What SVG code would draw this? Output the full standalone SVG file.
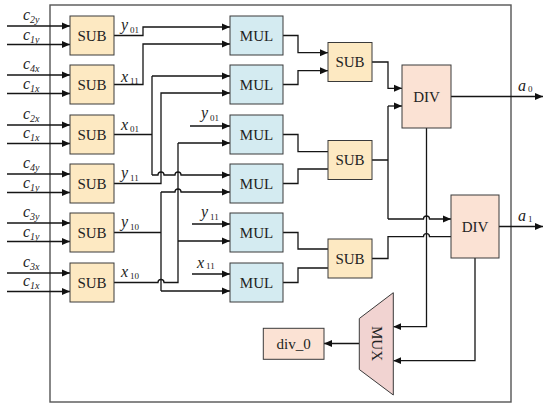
<svg xmlns="http://www.w3.org/2000/svg" width="550" height="408" viewBox="0 0 550 408">
<style>
.frame{fill:none;stroke:#555;stroke-width:1.4}
.sub{fill:#fde9c2;stroke:#3a3a3a;stroke-width:1}
.mul{fill:#d4ebf1;stroke:#3a3a3a;stroke-width:1}
.div{fill:#fbe2d4;stroke:#3a3a3a;stroke-width:1}
.mux{fill:#f1d3d1;stroke:#3a3a3a;stroke-width:1}
.w{fill:none;stroke:#151515;stroke-width:1.3}
.a{marker-end:url(#ah)}
.bt{font-family:"Liberation Serif","Times New Roman",serif;font-size:15px;fill:#222;text-anchor:middle;dominant-baseline:central}
.lab{font-family:"Liberation Serif","Times New Roman",serif;font-size:16px;font-style:italic;fill:#222}
.s{font-size:10px}
.sn{font-size:9px;font-style:normal}
</style>
<defs>
<marker id="ah" markerWidth="9" markerHeight="8" refX="8" refY="4" orient="auto" markerUnits="userSpaceOnUse">
<path d="M0,0.5 L8,4 L0,7.5 Z" fill="#111"/>
</marker>
</defs>
<rect class="frame" x="50" y="5" width="461" height="397"/>
<g id="connectors">
<path class="w a" d="M7,26 H70"/><path class="w a" d="M7,44.5 H70"/>
<path class="w a" d="M7,75 H70"/><path class="w a" d="M7,93.5 H70"/>
<path class="w a" d="M7,125 H70"/><path class="w a" d="M7,143.5 H70"/>
<path class="w a" d="M7,174 H70"/><path class="w a" d="M7,192.5 H70"/>
<path class="w a" d="M7,223 H70"/><path class="w a" d="M7,241.5 H70"/>
<path class="w a" d="M7,273 H70"/><path class="w a" d="M7,291.5 H70"/>
<path class="w a" d="M114,35.5 H143 V27 H230"/>
<path class="w a" d="M114,84.5 H143 V44 H230"/>
<path class="w" d="M114,134.5 H152 M152,76 V175"/>
<path class="w a" d="M152,76 H230"/>
<path class="w a" d="M152,175 H158 A3,3 0 0 1 164,175 H175 A3,3 0 0 1 181,175 H230"/>
<path class="w a" d="M114,183.5 H161 V93 H230"/>
<path class="w" d="M114,232.5 H161 M161,192 V291"/>
<path class="w a" d="M161,192 H175 A3,3 0 0 1 181,192 H230"/>
<path class="w a" d="M161,291 H230"/>
<path class="w" d="M114,282.5 H158 A3,3 0 0 1 164,282.5 H178 V143"/>
<path class="w a" d="M178,143 H230"/>
<path class="w a" d="M178,241 H230"/>
<path class="w a" d="M190,126 H230"/>
<path class="w a" d="M192,224 H230"/>
<path class="w a" d="M192,274 H230"/>
<path class="w a" d="M283,35.5 H298 V52.7 H328"/>
<path class="w a" d="M283,84.5 H298 V70.7 H328"/>
<path class="w" d="M283,134.5 H298 V151.7 H328"/>
<path class="w" d="M283,183.5 H298 V169 H328"/>
<path class="w" d="M283,232.5 H298 V249 H328"/>
<path class="w" d="M283,282.5 H298 V268 H328"/>
<path class="w a" d="M372,62 H388 V88.3 H402"/>
<path class="w" d="M372,160 H388 M388,106 V219"/>
<path class="w a" d="M388,106 H402"/>
<path class="w a" d="M388,219 H423.5 A3,3 0 0 1 429.5,219 H451"/>
<path class="w" d="M372,258.5 H388 V236.7 H423.5 A3,3 0 0 1 429.5,236.7 H451"/>
<path class="w a" d="M451,96.5 H543"/>
<path class="w a" d="M499,226.5 H543"/>
<path class="w a" d="M426.5,128 V326.7 H393.3"/>
<path class="w a" d="M475,258 V360.7 H393.3"/>
<path class="w a" d="M359.3,343.5 H324"/>
</g>
<g id="labels">
<text class="lab" x="23" y="20">c<tspan class="s" dy="3">2y</tspan></text>
<text class="lab" x="23" y="39.5">c<tspan class="s" dy="3">1y</tspan></text>
<text class="lab" x="23" y="69">c<tspan class="s" dy="3">4x</tspan></text>
<text class="lab" x="23" y="88.5">c<tspan class="s" dy="3">1x</tspan></text>
<text class="lab" x="23" y="119">c<tspan class="s" dy="3">2x</tspan></text>
<text class="lab" x="23" y="138">c<tspan class="s" dy="3">1x</tspan></text>
<text class="lab" x="23" y="168">c<tspan class="s" dy="3">4y</tspan></text>
<text class="lab" x="23" y="187.5">c<tspan class="s" dy="3">1y</tspan></text>
<text class="lab" x="23" y="217">c<tspan class="s" dy="3">3y</tspan></text>
<text class="lab" x="23" y="236.5">c<tspan class="s" dy="3">1y</tspan></text>
<text class="lab" x="23" y="267">c<tspan class="s" dy="3">3x</tspan></text>
<text class="lab" x="23" y="286">c<tspan class="s" dy="3">1x</tspan></text>
<text class="lab" x="121" y="29.5">y<tspan class="sn" dx="2" dy="3">01</tspan></text>
<text class="lab" x="121" y="81.5">x<tspan class="sn" dx="2" dy="2">11</tspan></text>
<text class="lab" x="121" y="130">x<tspan class="sn" dx="2" dy="2">01</tspan></text>
<text class="lab" x="121" y="177.5">y<tspan class="sn" dx="2" dy="3">11</tspan></text>
<text class="lab" x="121" y="227">y<tspan class="sn" dx="2" dy="3">10</tspan></text>
<text class="lab" x="121" y="277">x<tspan class="sn" dx="2" dy="2">10</tspan></text>
<text class="lab" x="201" y="118">y<tspan class="sn" dx="2" dy="3">01</tspan></text>
<text class="lab" x="201" y="217">y<tspan class="sn" dx="2" dy="3">11</tspan></text>
<text class="lab" x="197" y="268">x<tspan class="sn" dx="2" dy="1">11</tspan></text>
<text class="lab" x="518" y="91">a<tspan class="sn" dx="2" dy="1">0</tspan></text>
<text class="lab" x="518" y="221">a<tspan class="sn" dx="2" dy="1">1</tspan></text>
</g>
<g id="sub1"><rect class="sub" x="70" y="16" width="44" height="39"/><text class="bt" x="92" y="35.5">SUB</text></g>
<g id="sub2"><rect class="sub" x="70" y="65" width="44" height="39"/><text class="bt" x="92" y="84.5">SUB</text></g>
<g id="sub3"><rect class="sub" x="70" y="115" width="44" height="39"/><text class="bt" x="92" y="134.5">SUB</text></g>
<g id="sub4"><rect class="sub" x="70" y="164" width="44" height="39"/><text class="bt" x="92" y="183.5">SUB</text></g>
<g id="sub5"><rect class="sub" x="70" y="213" width="44" height="39"/><text class="bt" x="92" y="232.5">SUB</text></g>
<g id="sub6"><rect class="sub" x="70" y="263" width="44" height="39"/><text class="bt" x="92" y="282.5">SUB</text></g>
<g id="mul1"><rect class="mul" x="230" y="16" width="53" height="39"/><text class="bt" x="256.5" y="35.5">MUL</text></g>
<g id="mul2"><rect class="mul" x="230" y="65" width="53" height="39"/><text class="bt" x="256.5" y="84.5">MUL</text></g>
<g id="mul3"><rect class="mul" x="230" y="115" width="53" height="39"/><text class="bt" x="256.5" y="134.5">MUL</text></g>
<g id="mul4"><rect class="mul" x="230" y="164" width="53" height="39"/><text class="bt" x="256.5" y="183.5">MUL</text></g>
<g id="mul5"><rect class="mul" x="230" y="213" width="53" height="39"/><text class="bt" x="256.5" y="232.5">MUL</text></g>
<g id="mul6"><rect class="mul" x="230" y="263" width="53" height="39"/><text class="bt" x="256.5" y="282.5">MUL</text></g>
<g id="sub7"><rect class="sub" x="328" y="42.5" width="44" height="39"/><text class="bt" x="350" y="62">SUB</text></g>
<g id="sub8"><rect class="sub" x="328" y="140.5" width="44" height="39"/><text class="bt" x="350" y="160">SUB</text></g>
<g id="sub9"><rect class="sub" x="328" y="239" width="44" height="39"/><text class="bt" x="350" y="258.5">SUB</text></g>
<g id="div1"><rect class="div" x="402" y="65" width="49" height="63"/><text class="bt" x="426.5" y="96.5">DIV</text></g>
<g id="div2"><rect class="div" x="451" y="195" width="48" height="63"/><text class="bt" x="475" y="226.5">DIV</text></g>
<g id="mux"><polygon class="mux" points="393.3,292.7 393.3,395 359.3,369.5 359.3,318.5"/><text class="bt" x="0" y="0" transform="translate(377,343.5) rotate(90)">MUX</text></g>
<g id="div0"><rect class="div" x="263.3" y="328.3" width="60.7" height="31"/><text class="bt" x="293.7" y="343.8">div_0</text></g>
</svg>
